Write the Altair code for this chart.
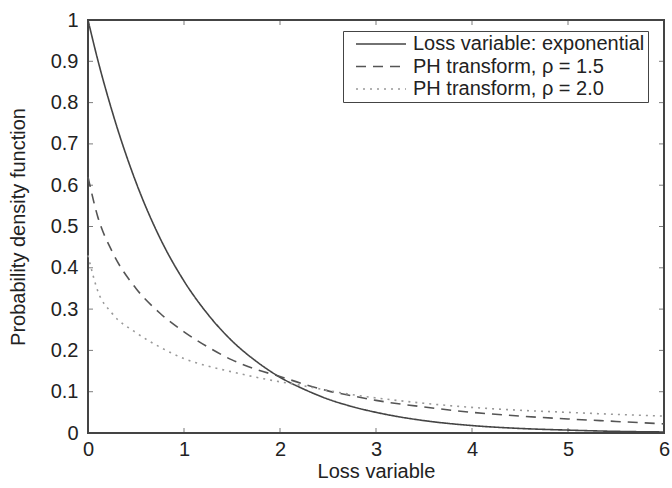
import altair as alt
import pandas as pd

# ---- data ----
x_vals = [0, 0.1, 0.25, 0.5, 0.75, 1, 1.25, 1.5, 1.75, 2, 2.25, 2.5, 2.75, 3, 3.5, 4, 4.5, 5, 5.5, 6]
y_exp = [1.0, 0.905, 0.78, 0.607, 0.472, 0.368, 0.287, 0.223, 0.174, 0.135, 0.106, 0.082, 0.064,
         0.05, 0.03, 0.018, 0.011, 0.007, 0.004, 0.0025]
y_ph15 = [0.62, 0.525, 0.44, 0.35, 0.29, 0.245, 0.208, 0.177, 0.154, 0.137, 0.118, 0.102, 0.09,
          0.079, 0.063, 0.05, 0.041, 0.034, 0.028, 0.022]
y_ph20 = [0.43, 0.345, 0.29, 0.243, 0.208, 0.18, 0.162, 0.148, 0.135, 0.124, 0.114, 0.103, 0.093,
          0.085, 0.072, 0.062, 0.055, 0.05, 0.045, 0.041]
series = ["Loss variable: exponential", "PH transform, \u03c1 = 1.5", "PH transform, \u03c1 = 2.0"]
x_ticks = [0, 1, 2, 3, 4, 5, 6]
y_ticks = [0, 0.1, 0.2, 0.3, 0.4, 0.5, 0.6, 0.7, 0.8, 0.9, 1.0]

rows = []
for name, ys in zip(series, [y_exp, y_ph15, y_ph20]):
    for xv, yv in zip(x_vals, ys):
        rows.append({"x": xv, "y": yv, "series": name})
df = pd.DataFrame(rows)
xt = pd.DataFrame({"t": x_ticks[1:-1]})
yt = pd.DataFrame({"t": y_ticks[1:-1]})

FONT = "Liberation Sans"
TXT = "#222222"
xscale = alt.Scale(domain=[0, 6], nice=False, zero=False)
yscale = alt.Scale(domain=[0, 1], nice=False, zero=False)

legend_kw = dict(title=None, orient="none", legendX=255, legendY=11,
                 symbolType="M0,0H10", symbolSize=100, symbolStrokeWidth=1.6,
                 labelFontSize=20, labelFont=FONT, labelColor=TXT, labelLimit=400,
                 labelOffset=47, rowPadding=2.5, padding=3,
                 strokeColor="#444444", fillColor="white")

lines = alt.Chart(df).mark_line(strokeWidth=1.6, interpolate="monotone").encode(
    x=alt.X("x:Q", scale=xscale,
            axis=alt.Axis(values=x_ticks, title="Loss variable", ticks=False, domain=False,
                          grid=False, labelPadding=6, titlePadding=2, format="d",
                          labelFlush=False,
                          labelFont=FONT, labelFontSize=20, labelColor=TXT,
                          titleFont=FONT, titleFontSize=20, titleColor=TXT,
                          titleFontWeight="normal")),
    y=alt.Y("y:Q", scale=yscale,
            axis=alt.Axis(values=y_ticks, title="Probability density function", ticks=False,
                          domain=False, grid=False, labelPadding=10, titlePadding=22,
                          format=".1~f", labelFlush=False,
                          labelFont=FONT, labelFontSize=20, labelColor=TXT,
                          titleFont=FONT, titleFontSize=20, titleColor=TXT,
                          titleFontWeight="normal")),
    color=alt.Color("series:N", scale=alt.Scale(domain=series, range=["#444444", "#555555", "#999999"]),
                    legend=alt.Legend(**legend_kw)),
    strokeDash=alt.StrokeDash("series:N", scale=alt.Scale(domain=series, range=[[1, 0], [10, 7], [2, 5]]),
                              legend=alt.Legend(**legend_kw)),
)

tick_color = "#444444"
bottom = alt.Chart(xt).mark_tick(orient="vertical", size=5, thickness=1, color=tick_color, yOffset=-2.5).encode(
    x=alt.X("t:Q", scale=xscale), y=alt.datum(0, scale=yscale))
top = alt.Chart(xt).mark_tick(orient="vertical", size=5, thickness=1, color=tick_color, yOffset=2.5).encode(
    x=alt.X("t:Q", scale=xscale), y=alt.datum(1, scale=yscale))
left = alt.Chart(yt).mark_tick(orient="horizontal", size=5, thickness=1, color=tick_color, xOffset=2.5).encode(
    y=alt.Y("t:Q", scale=yscale), x=alt.datum(0, scale=xscale))
right = alt.Chart(yt).mark_tick(orient="horizontal", size=5, thickness=1, color=tick_color, xOffset=-2.5).encode(
    y=alt.Y("t:Q", scale=yscale), x=alt.datum(6, scale=xscale))

chart = alt.layer(lines, bottom, top, left, right).properties(
    width=576, height=413,
    background="white",
    autosize=alt.AutoSizeParams(type="none"),
    padding={"left": 88, "top": 20, "right": 8, "bottom": 55},
).configure_view(
    stroke="#444444", strokeWidth=2
)

chart.save("out.html", embed_options={"renderer": "svg", "actions": False})
